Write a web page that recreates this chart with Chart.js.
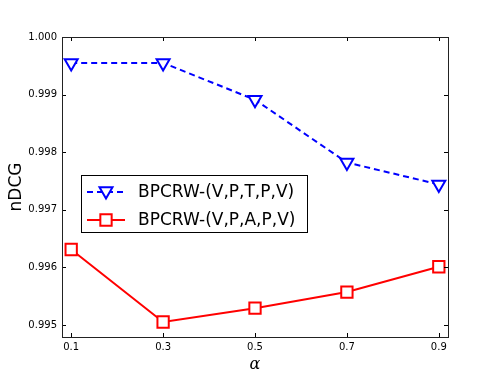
<!DOCTYPE html>
<html>
<head>
<meta charset="utf-8">
<script src="https://cdn.jsdelivr.net/npm/chart.js@4.4.0/dist/chart.umd.min.js"></script>
<style>
  html, body { margin: 0; padding: 0; background: #fff; }
  #chart { display: block; }
</style>
</head>
<body>
<canvas id="chart" width="498" height="374"></canvas>
<script>
var alphas = [0.1, 0.3, 0.5, 0.7, 0.9];
var vptpv = [0.99955, 0.99955, 0.99891, 0.99782, 0.99744];
var vpapv = [0.99631, 0.99505, 0.99529, 0.99557, 0.99601];
var seriesNames = ['BPCRW-(V,P,T,P,V)', 'BPCRW-(V,P,A,P,V)'];
var yTicks = [0.995, 0.996, 0.997, 0.998, 0.999, 1.000];

var FONT = '"DejaVu Sans", sans-serif';

// frame, inward ticks on all sides, legend box inside the axes
var framePlugin = {
  id: 'frame',
  afterDatasetsDraw: function(chart) {
    var ctx = chart.ctx,
      a = chart.chartArea,
      xs = chart.scales.x,
      ys = chart.scales.y;
    ctx.save();
    ctx.strokeStyle = '#000';
    ctx.lineWidth = 1;
    ctx.beginPath();
    alphas.forEach(function(v) {
      var px = Math.round(xs.getPixelForValue(v)) + 0.5;
      ctx.moveTo(px, a.bottom); ctx.lineTo(px, a.bottom - 4);
      ctx.moveTo(px, a.top); ctx.lineTo(px, a.top + 4);
    });
    yTicks.forEach(function(v) {
      var py = Math.round(ys.getPixelForValue(v)) + 0.5;
      ctx.moveTo(a.left, py); ctx.lineTo(a.left + 4, py);
      ctx.moveTo(a.right, py); ctx.lineTo(a.right - 4, py);
    });
    ctx.stroke();
    ctx.strokeStyle = '#222';
    ctx.strokeRect(Math.round(a.left) + 0.5, Math.round(a.top) + 0.5,
      Math.round(a.right - a.left), Math.round(a.bottom - a.top));

    // legend
    var lx = 81, ly = 175, lw = 226, lh = 57;
    ctx.fillStyle = '#fff';
    ctx.fillRect(lx, ly, lw, lh);
    ctx.strokeStyle = '#000';
    ctx.strokeRect(lx + 0.5, ly + 0.5, lw, lh);
    ctx.font = '17px ' + FONT;
    ctx.textBaseline = 'middle';
    chart.data.datasets.forEach(function(ds, i) {
      var rowY = ly + 17 + i * 28;
      ctx.strokeStyle = ds.borderColor;
      ctx.lineWidth = 2;
      ctx.setLineDash(ds.borderDash || []);
      ctx.beginPath();
      ctx.moveTo(lx + 6, rowY);
      ctx.lineTo(lx + 44, rowY);
      ctx.stroke();
      ctx.setLineDash([]);
      ctx.fillStyle = '#fff';
      Chart.helpers.drawPoint(ctx, {
        pointStyle: ds.pointStyle,
        rotation: ds.pointRotation || 0,
        radius: ds.pointRadius,
        borderWidth: 2
      }, lx + 25, rowY + (ds.pointStyle === 'triangle' ? -1 : 0));
      ctx.fillStyle = '#000';
      ctx.fillText(ds.label, lx + 57, rowY + 1);
    });
    ctx.restore();
  }
};

var ctx = document.getElementById('chart').getContext('2d');
new Chart(ctx, {
  type: 'line',
  data: {
    datasets: [{
      label: seriesNames[0],
      data: alphas.map(function(a, i) { return { x: a, y: vptpv[i] }; }),
      borderColor: '#0000ff',
      backgroundColor: '#ffffff',
      borderWidth: 2,
      borderDash: [6, 4],
      pointStyle: 'triangle',
      pointRotation: 180,
      pointRadius: 7.5,
      pointBorderWidth: 2,
      pointBackgroundColor: '#ffffff',
      pointBorderColor: '#0000ff'
    }, {
      label: seriesNames[1],
      data: alphas.map(function(a, i) { return { x: a, y: vpapv[i] }; }),
      borderColor: '#ff0000',
      backgroundColor: '#ffffff',
      borderWidth: 2,
      pointStyle: 'rect',
      pointRadius: 8,
      pointBorderWidth: 2,
      pointBackgroundColor: '#ffffff',
      pointBorderColor: '#ff0000'
    }]
  },
  options: {
    responsive: false,
    animation: false,
    layout: { padding: { left: 0, top: 37, right: 50, bottom: 0 } },
    plugins: {
      legend: { display: false },
      tooltip: { enabled: false }
    },
    scales: {
      x: {
        type: 'linear',
        min: 0.08,
        max: 0.92,
        afterBuildTicks: function(axis) {
          axis.ticks = alphas.map(function(v) { return { value: v }; });
        },
        afterFit: function(axis) { axis.height = 37; },
        grid: { display: false, drawTicks: false },
        border: { display: false },
        ticks: {
          padding: 4,
          color: '#000',
          font: { family: FONT, size: 10 },
          callback: function(v) { return v.toFixed(1); }
        },
        title: {
          display: true,
          text: 'α',
          color: '#000',
          padding: { top: 0, bottom: 0 },
          font: { family: '"DejaVu Serif", serif', size: 16, style: 'italic' }
        }
      },
      y: {
        min: 0.99479,
        max: 1.0,
        afterBuildTicks: function(axis) {
          axis.ticks = yTicks.map(function(v) { return { value: v }; });
        },
        afterFit: function(axis) { axis.width = 62; },
        grid: { display: false, drawTicks: false },
        border: { display: false },
        ticks: {
          padding: 5,
          color: '#000',
          font: { family: FONT, size: 10 },
          callback: function(v) { return v.toFixed(3); }
        },
        title: {
          display: true,
          text: 'nDCG',
          color: '#000',
          padding: { top: 6, bottom: 2 },
          font: { family: FONT, size: 17 }
        }
      }
    }
  },
  plugins: [framePlugin]
});
</script>
</body>
</html>
